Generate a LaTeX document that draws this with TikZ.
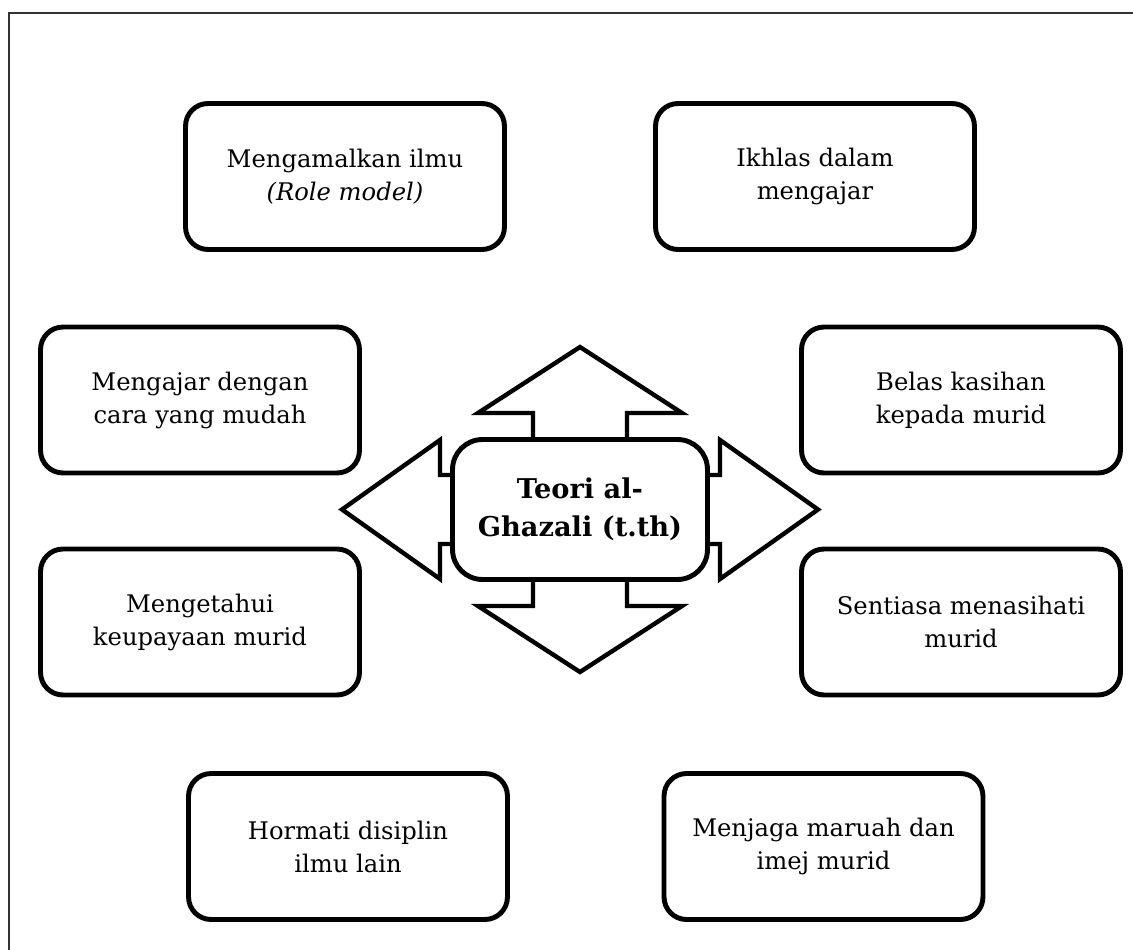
\documentclass[tikz,border=0pt]{standalone}
\usepackage{fontspec}
\setmainfont{DejaVu Serif}
\usepackage{tikz}

\begin{document}
\begin{tikzpicture}[x=0.02cm,y=-0.02cm,
    idea/.style={draw,line width=2.8pt,rounded corners=0.45cm,fill=white,align=center,
      minimum width=6.38cm,minimum height=2.92cm,inner sep=0pt,
      font=\fontsize{13.8}{18.8}\selectfont},
    teori/.style={draw,line width=2.8pt,rounded corners=0.6cm,fill=white,align=center,
      minimum width=5.1cm,minimum height=2.8cm,inner sep=0pt,
      font=\fontsize{15.5}{21.5}\selectfont\bfseries},
    panah/.style={draw,line width=2.5pt,fill=white,line join=miter}]
    \useasboundingbox (0,0) rectangle (1133,950);
    \draw[line width=0.7pt,black!80] (9,950) to (9,13) to (1133,13);
    \draw[panah] (533,470) -- (533,413) -- (478,413) -- (580,347) -- (682,413) -- (627,413) -- (627,470) -- cycle;
    \draw[panah] (533,550) -- (533,606) -- (478,606) -- (580,672) -- (682,606) -- (627,606) -- (627,550) -- cycle;
    \draw[panah] (480,475) -- (440,475) -- (440,440) -- (342,509.5) -- (440,579) -- (440,544) -- (480,544) -- cycle;
    \draw[panah] (680,475) -- (720,475) -- (720,440) -- (818,509.5) -- (720,579) -- (720,544) -- (680,544) -- cycle;
    \node[teori] (teori) at (580,509.5) {Teori al-\\Ghazali (t.th)};
    \node[idea] (amal) at (345,176.5) {Mengamalkan ilmu\\\textit{(Role model)}};
    \node[idea] (ikhlas) at (815,176.5) {Ikhlas dalam\\mengajar};
    \node[idea] (mudah) at (200,400) {Mengajar dengan\\cara yang mudah};
    \node[idea] (belas) at (961,400) {Belas kasihan\\kepada murid};
    \node[idea] (keupayaan) at (200,622) {Mengetahui\\keupayaan murid};
    \node[idea] (nasihat) at (961,622) {Sentiasa menasihati\\murid};
    \node[idea] (disiplin) at (348,846.5) {Hormati disiplin\\ilmu lain};
    \node[idea] (maruah) at (823.5,846.5) {Menjaga maruah dan\\imej murid};
\end{tikzpicture}
\end{document}
